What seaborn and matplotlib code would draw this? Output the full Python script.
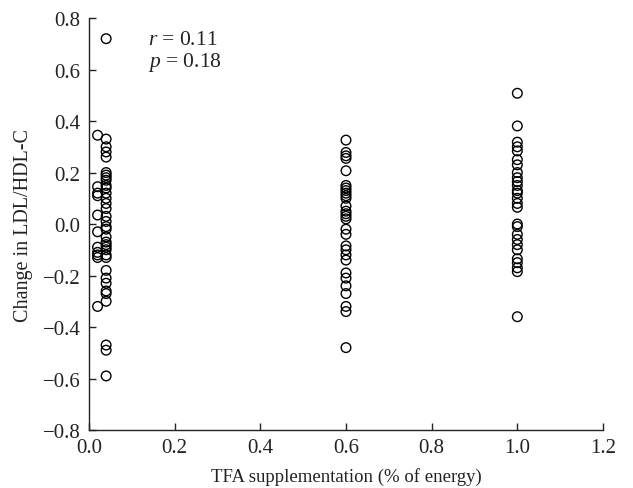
import numpy as np
import pandas as pd
import matplotlib
matplotlib.use("Agg")
import matplotlib.pyplot as plt
import seaborn as sns

# Valores (cambio en LDL/HDL-C por nivel de TFA)
tfa_002 = [0.345, 0.145, 0.12, 0.11, 0.035, -0.03, -0.09, -0.11, -0.12, -0.13, -0.32]
tfa_004 = [0.72, 0.33, 0.30, 0.28, 0.26, 0.20, 0.19, 0.18, 0.17, 0.15, 0.14, 0.12,
           0.10, 0.08, 0.06, 0.03, 0.01, -0.01, -0.02, -0.05, -0.07, -0.08, -0.09,
           -0.10, -0.12, -0.13, -0.18, -0.21, -0.23, -0.26, -0.27, -0.30,
           -0.47, -0.49, -0.59]
tfa_060 = [0.326, 0.278, 0.265, 0.255, 0.207, 0.15, 0.14, 0.13, 0.12, 0.11, 0.10,
           0.07, 0.05, 0.04, 0.03, 0.02, -0.02, -0.04, -0.085, -0.10, -0.12, -0.14,
           -0.19, -0.21, -0.24, -0.27, -0.32, -0.34, -0.48]
tfa_100 = [0.508, 0.381, 0.318, 0.30, 0.284, 0.25, 0.23, 0.20, 0.18, 0.165, 0.15,
           0.13, 0.12, 0.10, 0.08, 0.065, 0.0, -0.01, -0.04, -0.06, -0.08, -0.10,
           -0.135, -0.15, -0.17, -0.185, -0.36]

x_ticks = [0.0, 0.2, 0.4, 0.6, 0.8, 1.0, 1.2]
y_ticks = [-0.8, -0.6, -0.4, -0.2, 0.0, 0.2, 0.4, 0.6, 0.8]

grupos = {0.02: tfa_002, 0.04: tfa_004, 0.6: tfa_060, 1.0: tfa_100}
df = pd.DataFrame([(x, y) for x, ys in grupos.items() for y in ys],
                  columns=["tfa", "cambio"])

sns.set_style("ticks")
plt.rcParams['font.family'] = ['Liberation Serif', 'DejaVu Serif']
plt.rcParams['mathtext.fontset'] = 'custom'
plt.rcParams['mathtext.it'] = 'Liberation Serif:italic'
plt.rcParams['mathtext.rm'] = 'Liberation Serif'

fig = plt.figure(figsize=(6.33, 4.89), dpi=100)
ax = fig.add_axes([0.1406, 0.1186, 0.812, 0.8424])

sns.scatterplot(data=df, x="tfa", y="cambio", ax=ax, marker="o", s=48,
                facecolor="none", edgecolor="black", linewidth=1)

ax.set_xlim(0, 1.2)
ax.set_ylim(-0.8, 0.8)
ax.set_xticks(x_ticks)
ax.set_yticks(y_ticks)
ax.set_xticklabels([f"{v:.1f}" for v in x_ticks])
ax.set_yticklabels([f"{v:.1f}".replace("-", "\u2212") for v in y_ticks])
ax.tick_params(direction="in", length=5, width=1, labelsize=15,
               colors="#222222", pad=6)
sns.despine(ax=ax)
for s in ["left", "bottom"]:
    ax.spines[s].set_linewidth(1)
    ax.spines[s].set_color("#222222")

ax.set_xlabel("TFA supplementation (% of energy)", fontsize=13.5, labelpad=7,
              color="#222222")
ax.set_ylabel("Change in LDL/HDL-C", fontsize=14.5, labelpad=7, color="#222222")

ax.text(0.138, 0.717, r"$r$ = 0.11", fontsize=15.5, va="center", color="#222222")
ax.text(0.138, 0.632, r"$p$ = 0.18", fontsize=15.5, va="center", color="#222222")

fig.savefig("out.png", dpi=100)
